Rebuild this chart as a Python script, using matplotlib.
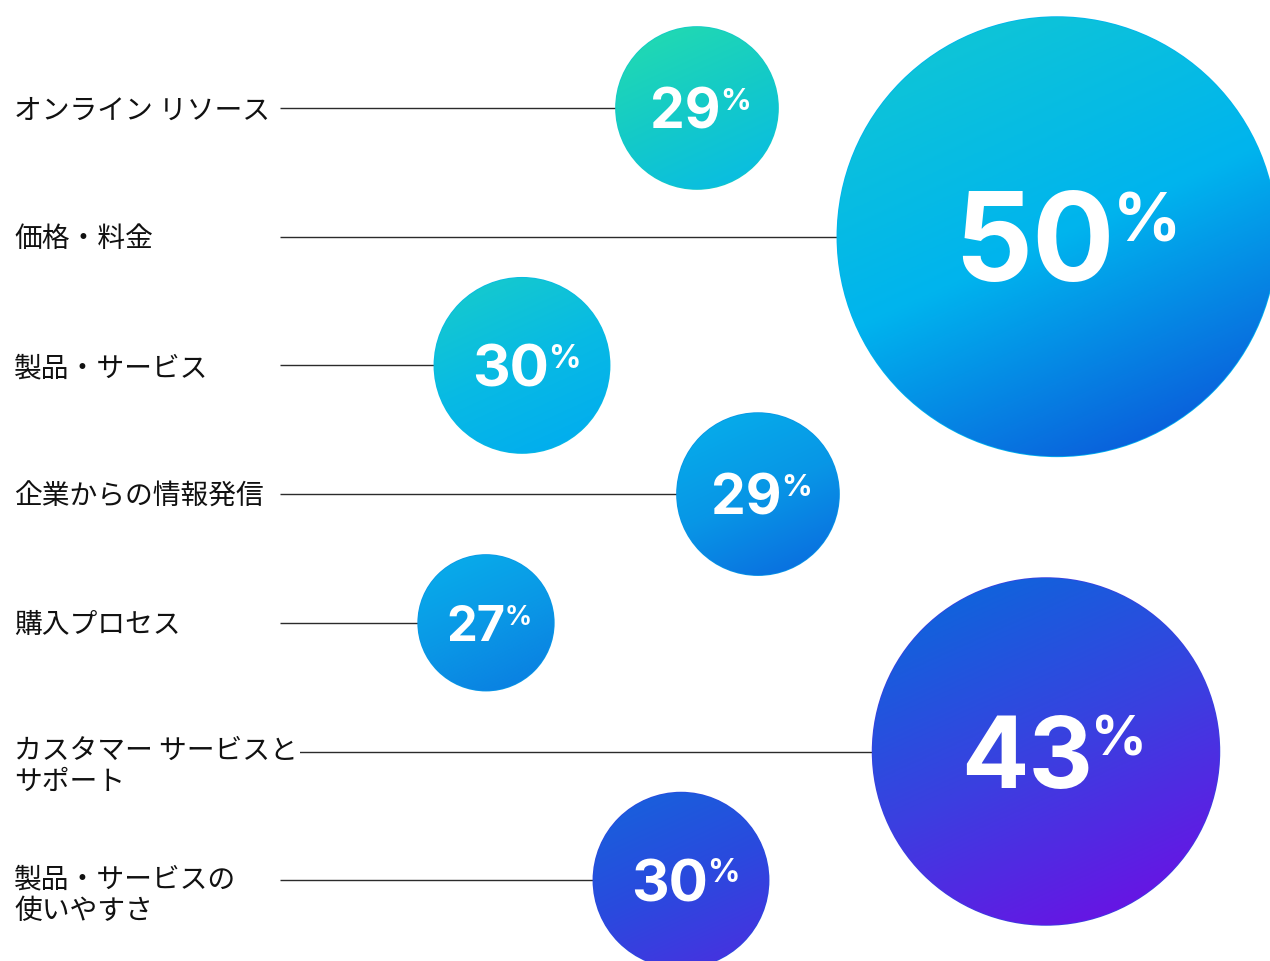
import numpy as np
import matplotlib.pyplot as plt
from matplotlib.colors import LinearSegmentedColormap
from matplotlib.patches import Circle

# データ
categories = ['オンライン リソース', '価格・料金', '製品・サービス', '企業からの情報発信',
              '購入プロセス', 'カスタマー サービスと\nサポート', '製品・サービスの\n使いやすさ']
values = [29, 50, 30, 29, 27, 43, 30]

# レイアウト (ピクセル単位)
W, H = 1270, 961
bubble_x = [697, 1057, 522, 758, 486, 1046, 681]
row_top, row_step = 108, 128.7
line_start = 280
label_x = 14
label_fs = 20
label_px = label_fs * 100 / 72
line_gap = 31

# 各バブルのグラデーション (左上 -> 右下)
bubble_colors = [
    ['#20d8b4', '#14cac8', '#0abee0'],
    ['#0ec4d8', '#00b4ee', '#0a62dc'],
    ['#14c8d0', '#08bae4', '#02aeee'],
    ['#06aaea', '#0896e6', '#0a72e0'],
    ['#08aaea', '#0a98e6', '#0a82e2'],
    ['#1262dc', '#3a40e0', '#6616e4'],
    ['#1a5edc', '#2a4ade', '#4434e0'],
]


def radius(v):
    return 6.6 * (v - 16.6)


def num_size(v):
    return 2.3 * v - 27


fig = plt.figure(figsize=(12.7, 9.61), dpi=100)
ax = fig.add_axes([0, 0, 1, 1])
ax.set_xlim(0, W)
ax.set_ylim(H, 0)
ax.axis('off')

# グラデーション用のグリッド
n = 300
u, v_ = np.meshgrid(np.linspace(-1, 1, n), np.linspace(-1, 1, n))
t = ((0.45 * u + v_) / np.hypot(0.45, 1)) * 0.5 + 0.5

fig.canvas.draw()
rend = fig.canvas.get_renderer()

for i, (cat, val) in enumerate(zip(categories, values)):
    cy = row_top + i * row_step
    cx = bubble_x[i]
    r = radius(val)

    # 接続線
    ax.plot([line_start, cx - r + 2], [cy, cy], color='#2b2b2b', lw=1.0,
            solid_capstyle='butt', zorder=1)

    # ラベル
    lines = cat.split('\n')
    off = 0 if len(lines) == 1 else -3
    for j, line in enumerate(lines):
        ax.text(label_x, cy + 0.38 * label_px + off + j * line_gap, line,
                fontsize=label_fs, family=['Noto Sans CJK JP', 'DejaVu Sans'],
                color='#111111', ha='left', va='baseline', zorder=2,
                bbox=dict(facecolor='white', edgecolor='none', pad=1.5))

    # バブル
    cmap = LinearSegmentedColormap.from_list(f'b{i}', bubble_colors[i])
    base = Circle((cx, cy), r, facecolor=cmap(0.5), edgecolor='none', zorder=3)
    ax.add_patch(base)
    im = ax.imshow(t, cmap=cmap, vmin=0, vmax=1, extent=[cx - r, cx + r, cy + r, cy - r],
                   interpolation='bilinear', zorder=4)
    clip = Circle((cx, cy), r - 0.8, transform=ax.transData)
    im.set_clip_path(clip)

    # パーセント表示
    fs = num_size(val)
    pfs = fs * 0.55
    cap = fs * 100 / 72 * 0.727
    pcap = pfs * 100 / 72 * 0.727
    t1 = ax.text(0, 0, str(val), fontsize=fs, family='Inter', fontweight='bold',
                 color='white', ha='left', va='baseline', zorder=5)
    t2 = ax.text(0, 0, '%', fontsize=pfs, family='Inter', fontweight='bold',
                 color='white', ha='left', va='baseline', zorder=5)
    w1 = t1.get_window_extent(rend).width
    w2 = t2.get_window_extent(rend).width
    x0 = cx - (w1 + w2) / 2 + 0.05 * r
    t1.set_position((x0, cy + cap / 2))
    t2.set_position((x0 + w1 - 0.02 * fs, cy - cap / 2 + pcap))

fig.savefig('out.png', dpi=100, facecolor='white')
